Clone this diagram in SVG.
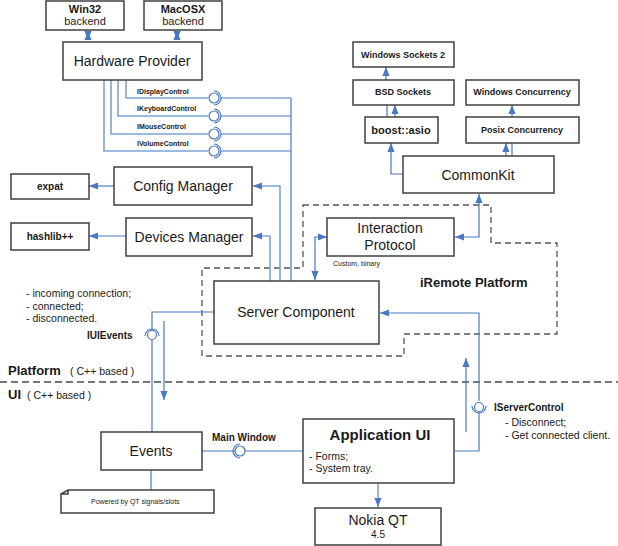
<svg xmlns="http://www.w3.org/2000/svg" width="618" height="546" viewBox="0 0 618 546">
<style>
text{font-family:"Liberation Sans",Arial,sans-serif;fill:#1a1a1a}
.box{fill:#fff;stroke:#404040;stroke-width:1.5}
.t{font-size:14px;text-anchor:middle}
.b{font-size:9px;font-weight:bold;text-anchor:middle}
.s{font-size:10.5px}
.lbl{font-size:7px;font-weight:bold}
.c{fill:none;stroke:#4a78c2;stroke-width:1.2}
.cl{fill:none;stroke:#7ea3d8;stroke-width:1.6}
.ball{fill:#fff;stroke:#4a78c2;stroke-width:1.2}
.sock{fill:none;stroke:#4a78c2;stroke-width:1.2}
.dash{fill:none;stroke:#555;stroke-width:1.3;stroke-dasharray:6,4}
</style>
<defs>
<marker id="a" viewBox="0 0 10 10" refX="10" refY="5" markerWidth="9" markerHeight="9" markerUnits="userSpaceOnUse" orient="auto-start-reverse">
<path d="M0,1 L10,5 L0,9 Z" fill="#4a78c2"/>
</marker>
</defs>
<g id="boundary">
<path class="dash" d="M303,205 H491 V243 H557 V334 H404 V356 H202 V268 H303 Z"/>
<path d="M0,382 H618" fill="none" stroke="#777" stroke-width="2" stroke-dasharray="7,4"/>
<text x="420" y="287" style="font-size:13px;font-weight:bold">iRemote Platform</text>
<text x="8" y="375" style="font-size:13px;font-weight:bold">Platform</text>
<text x="70" y="375" class="s">( C++ based )</text>
<text x="8" y="399" style="font-size:13px;font-weight:bold">UI</text>
<text x="27" y="399" class="s">( C++ based )</text>
</g>
<g id="connectors">
<path class="c" d="M88,31 V40" marker-start="url(#a)" marker-end="url(#a)"/>
<path class="c" d="M177,31 V40" marker-start="url(#a)" marker-end="url(#a)"/>
<path class="cl" d="M126,80 V98 H208"/>
<path class="cl" d="M118,80 V116 H208"/>
<path class="cl" d="M111,80 V134 H208"/>
<path class="cl" d="M104,80 V151 H208"/>
<path class="c" d="M221,98 H291 M221,116 H291 M221,134 H291 M221,151 H291 M291,98 V281"/>
<path class="cl" d="M280,281 V186 H253" marker-end="url(#a)"/>
<path class="cl" d="M270,281 V236 H253" marker-end="url(#a)"/>
<path class="c" d="M114,186 H89" marker-end="url(#a)"/>
<path class="c" d="M126,236 H89" marker-end="url(#a)"/>
<path class="c" d="M315,280 V237 H327" marker-start="url(#a)" marker-end="url(#a)"/>
<path class="c" d="M455,237 H479 V194" marker-start="url(#a)" marker-end="url(#a)"/>
<path class="c" d="M403,174 H391 V143" marker-end="url(#a)"/>
<path class="c" d="M387,117 V105"/>
<path class="c" d="M395,117 V105" marker-end="url(#a)"/>
<path class="c" d="M386,80 V67" marker-end="url(#a)"/>
<path class="c" d="M506,156 V143" marker-end="url(#a)"/>
<path class="c" d="M512,156 V143"/>
<path class="c" d="M512,117 V105" marker-end="url(#a)"/>
<path class="c" d="M479,401 V313 H380" marker-end="url(#a)"/>
<path class="c" d="M479,412 V451 H455"/>
<path class="c" d="M466,432 V358" marker-end="url(#a)"/>
<path class="c" d="M214,312 H152 V330"/>
<path class="c" d="M152,340 V432"/>
<path class="c" d="M164,321 V400" marker-end="url(#a)"/>
<path class="c" d="M151,470 V490"/>
<path class="cl" d="M202,451 H235"/>
<path class="c" d="M245,451 H303"/>
<path class="cl" d="M378,483 V507" marker-end="url(#a)"/>
</g>
<g id="lollipops">
<circle class="ball" cx="214" cy="98" r="5"/><path class="sock" d="M214,91 A7,7 0 0 1 214,105"/>
<circle class="ball" cx="214" cy="116" r="5"/><path class="sock" d="M214,109 A7,7 0 0 1 214,123"/>
<circle class="ball" cx="214" cy="134" r="5"/><path class="sock" d="M214,127 A7,7 0 0 1 214,141"/>
<circle class="ball" cx="214" cy="151" r="5"/><path class="sock" d="M214,144 A7,7 0 0 1 214,158"/>
<circle class="ball" cx="152" cy="335" r="4.5"/><path class="sock" d="M145,336 A7,7 0 0 1 159,336"/>
<circle class="ball" cx="479" cy="407" r="4.5"/><path class="sock" d="M472,406 A7,7 0 0 0 486,406"/>
<circle class="ball" cx="240" cy="451" r="5"/><path class="sock" d="M240,444 A7,7 0 0 0 240,458"/>
<text x="137" y="94" class="lbl">IDisplayControl</text>
<text x="137" y="111" class="lbl">IKeyboardControl</text>
<text x="137" y="129" class="lbl">IMouseControl</text>
<text x="137" y="146" class="lbl">IVolumeControl</text>
<text x="87" y="339" style="font-size:10px;font-weight:bold">IUIEvents</text>
<text x="494" y="411" style="font-size:10px;font-weight:bold">IServerControl</text>
<text x="212" y="441" style="font-size:10px;font-weight:bold">Main Window</text>
<text x="26" y="297" class="s">- incoming connection;</text>
<text x="26" y="310" class="s">- connected;</text>
<text x="26" y="322" class="s">- disconnected.</text>
<text x="505" y="426" class="s">- Disconnect;</text>
<text x="505" y="439" class="s">- Get connected client.</text>
</g>
<g id="win32"><rect class="box" x="46" y="1" width="78" height="29"/><text x="85" y="13" style="font-size:11px;font-weight:bold;text-anchor:middle">Win32</text><text x="85" y="25" style="font-size:11px;text-anchor:middle">backend</text></g>
<g id="macosx"><rect class="box" x="144" y="1" width="78" height="29"/><text x="183" y="13" style="font-size:11px;font-weight:bold;text-anchor:middle">MacOSX</text><text x="183" y="25" style="font-size:11px;text-anchor:middle">backend</text></g>
<g id="hardware"><rect class="box" x="63" y="42" width="139" height="38"/><text x="132" y="66" class="t">Hardware Provider</text></g>
<g id="config"><rect class="box" x="114" y="167" width="138" height="38"/><text x="183" y="191" class="t">Config Manager</text></g>
<g id="devices"><rect class="box" x="126" y="218" width="126" height="38"/><text x="189" y="242" class="t">Devices Manager</text></g>
<g id="expat"><rect class="box" x="11" y="174" width="78" height="25"/><text x="50" y="190" class="b" style="font-size:10px">expat</text></g>
<g id="hashlib"><rect class="box" x="11" y="223" width="78" height="27"/><text x="50" y="240" class="b" style="font-size:10px">hashlib++</text></g>
<g id="server"><rect class="box" x="214" y="281" width="165" height="63"/><text x="296" y="317" class="t">Server Component</text></g>
<g id="protocol"><rect class="box" x="327" y="218" width="127" height="38"/><text x="390" y="233" class="t">Interaction</text><text x="390" y="250" class="t">Protocol</text><text x="333" y="266" style="font-size:7px">Custom, binary</text></g>
<g id="commonkit"><rect class="box" x="403" y="156" width="151" height="37"/><text x="478" y="180" class="t">CommonKit</text></g>
<g id="boost"><rect class="box" x="365" y="117" width="73" height="26"/><text x="401" y="134" style="font-size:11px;font-weight:bold;text-anchor:middle">boost::asio</text></g>
<g id="bsd"><rect class="box" x="353" y="80" width="101" height="25"/><text x="403" y="95" class="b">BSD Sockets</text></g>
<g id="ws2"><rect class="box" x="353" y="42" width="101" height="25"/><text x="403" y="58" class="b">Windows Sockets 2</text></g>
<g id="wconc"><rect class="box" x="466" y="80" width="113" height="25"/><text x="522" y="95" class="b">Windows Concurrency</text></g>
<g id="pconc"><rect class="box" x="466" y="117" width="113" height="26"/><text x="522" y="133" class="b">Posix Concurrency</text></g>
<g id="events"><rect class="box" x="101" y="432" width="101" height="38"/><text x="151" y="456" class="t">Events</text></g>
<g id="note"><path class="box" d="M68,490 H214 V513 H61 V494 Z M61,494 L68,494 L68,490"/><text x="91" y="504" style="font-size:7px">Powered by QT signals/slots</text></g>
<g id="appui"><rect class="box" x="303" y="419" width="151" height="64"/><text x="380" y="440" style="font-size:15px;font-weight:bold;text-anchor:middle">Application UI</text><text x="309" y="460" class="s">- Forms;</text><text x="309" y="472" class="s">- System tray.</text></g>
<g id="qt"><rect class="box" x="315" y="508" width="126" height="37"/><text x="378" y="525" class="t">Nokia QT</text><text x="378" y="538" style="font-size:10px;text-anchor:middle">4.5</text></g>
</svg>
